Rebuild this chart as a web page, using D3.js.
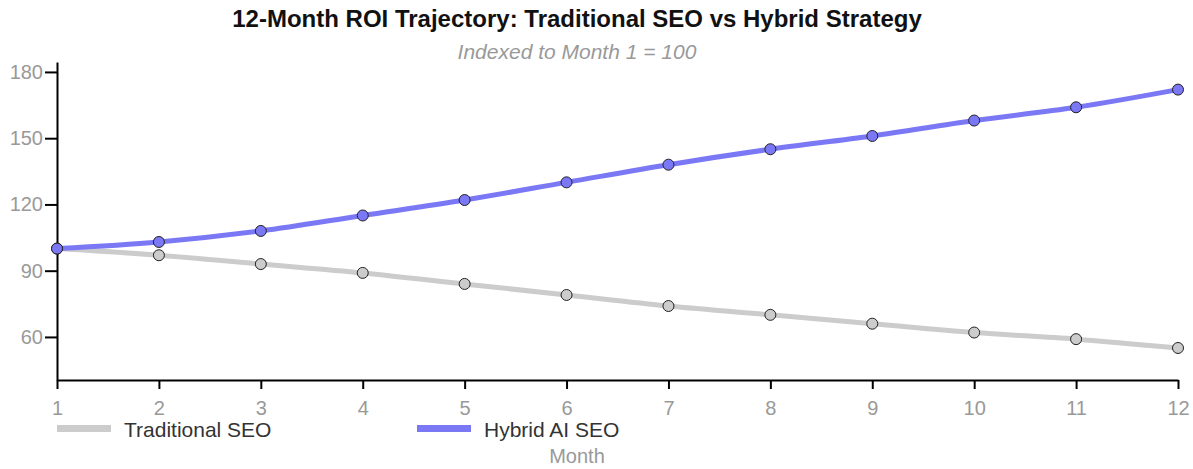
<!DOCTYPE html>
<html>
<head>
<meta charset="utf-8">
<script src="https://cdn.jsdelivr.net/npm/d3@7"></script>
<style>
  body { margin: 0; background: #fff; }
  svg text { font-family: "Liberation Sans", Arial, sans-serif; }
</style>
</head>
<body>
<div id="visualization"></div>
<script>
// Data
var months = [1, 2, 3, 4, 5, 6, 7, 8, 9, 10, 11, 12];
var traditional = [100, 97, 93, 89, 84, 79, 74, 70, 66, 62, 59, 55];
var hybrid = [100, 103, 108, 115, 122, 130, 138, 145, 151, 158, 164, 172];
var yTicks = [60, 90, 120, 150, 180];
var seriesNames = ["Traditional SEO", "Hybrid AI SEO"];
var seriesColors = ["#cccccc", "#7b78f5"];

var width = 1193;
var height = 469;
var margin = { top: 62, right: 15, bottom: 89, left: 57 };

var svg = d3.select("#visualization")
            .append("svg")
            .attr("width", width)
            .attr("height", height);

var cx = 577;

// Title
svg.append("text")
   .attr("x", cx)
   .attr("y", 27)
   .attr("text-anchor", "middle")
   .style("font-size", "24px")
   .style("font-weight", "bold")
   .attr("fill", "#111")
   .text("12-Month ROI Trajectory: Traditional SEO vs Hybrid Strategy");

// Subtitle
svg.append("text")
   .attr("x", cx)
   .attr("y", 59)
   .attr("text-anchor", "middle")
   .style("font-size", "21px")
   .style("font-style", "italic")
   .attr("fill", "#999")
   .text("Indexed to Month 1 = 100");

var x = d3.scaleLinear()
          .domain([1, 12])
          .range([margin.left, width - margin.right]);

var y = d3.scaleLinear()
          .domain([40.5, 184.5])
          .range([height - margin.bottom, margin.top]);

// Axes
var xAxis = svg.append("g")
   .attr("transform", "translate(0," + (height - margin.bottom) + ")")
   .call(d3.axisBottom(x).tickValues(months).tickSize(9).tickSizeOuter(0).tickFormat(d3.format("d")));

var yAxis = svg.append("g")
   .attr("transform", "translate(" + margin.left + ",0)")
   .call(d3.axisLeft(y).tickValues(yTicks).tickSize(12).tickPadding(2).tickSizeOuter(0));

[xAxis, yAxis].forEach(function(g) {
   g.attr("font-family", null);
   g.select(".domain").attr("stroke", "#000").attr("stroke-width", 2);
   g.selectAll(".tick line").attr("stroke", "#000").attr("stroke-width", 2);
   g.selectAll(".tick text")
    .attr("fill", "#999")
    .style("font-size", "20px");
});
xAxis.selectAll(".tick text").attr("y", 35).attr("dy", null);

// Lines
var line = d3.line()
             .x(function(d, i) { return x(months[i]); })
             .y(function(d) { return y(d); })
             .curve(d3.curveMonotoneX);

var allSeries = [traditional, hybrid];

allSeries.forEach(function(values, s) {
   svg.append("path")
      .datum(values)
      .attr("fill", "none")
      .attr("stroke", seriesColors[s])
      .attr("stroke-width", 5)
      .attr("d", line);
});

allSeries.forEach(function(values, s) {
   svg.append("g")
      .selectAll("circle")
      .data(values)
      .join("circle")
      .attr("cx", function(d, i) { return x(months[i]); })
      .attr("cy", function(d) { return y(d); })
      .attr("r", 5.5)
      .attr("fill", seriesColors[s])
      .attr("stroke", "#222")
      .attr("stroke-width", 1);
});

// Legend
var legendX = [57, 417];
seriesNames.forEach(function(name, s) {
   svg.append("line")
      .attr("x1", legendX[s])
      .attr("x2", legendX[s] + 54)
      .attr("y1", 428.5)
      .attr("y2", 428.5)
      .attr("stroke", seriesColors[s])
      .attr("stroke-width", 7);
   svg.append("text")
      .attr("x", legendX[s] + 67)
      .attr("y", 437)
      .style("font-size", "21px")
      .attr("fill", "#333")
      .text(name);
});

// X axis label
svg.append("text")
   .attr("x", cx)
   .attr("y", 463)
   .attr("text-anchor", "middle")
   .style("font-size", "20px")
   .attr("fill", "#999")
   .text("Month");
</script>
</body>
</html>
